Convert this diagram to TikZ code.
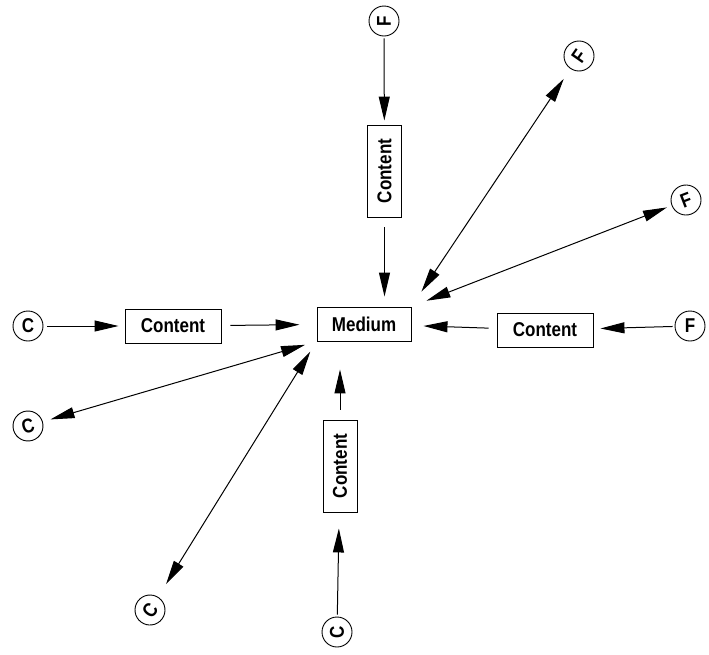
\documentclass[tikz,border=0pt]{standalone}
\usepackage{fontspec}
\setmainfont{Liberation Sans}
\newfontfamily\lbl[FakeStretch=0.85]{Liberation Sans}
\usetikzlibrary{arrows.meta}
\tikzset{
 box/.style={draw, line width=0.9pt, minimum height=34pt, inner sep=0pt, font=\lbl\bfseries\fontsize{20}{20}\selectfont},
 circ/.style={draw, circle, minimum size=30pt, inner sep=0pt, line width=0.9pt, font=\lbl\bfseries\fontsize{20}{20}\selectfont},
 arr/.style={line width=1pt, -{Triangle[length=24pt,width=11pt]}},
 darr/.style={line width=1pt, {Triangle[length=24pt,width=11pt]}-{Triangle[length=24pt,width=11pt]}},
}
\begin{document}
\begin{tikzpicture}[x=1pt,y=-1pt]
\useasboundingbox (0,0) rectangle (709,654);
\node[box, minimum width=94pt] (med) at (364,324) {Medium};
\node[box, minimum width=92pt, rotate=90] (ct) at (384.5,171) {Content};
\node[box, minimum width=96pt] (cl) at (173,326) {Content};
\node[box, minimum width=96pt] (cr) at (545,330) {Content};
\node[box, minimum width=92pt, rotate=90] (cb) at (340,466) {Content};
\node[circ, rotate=90] (f1) at (384,21) {F};
\node[circ, rotate=55] (f2) at (579,56) {F};
\node[circ, rotate=21] (f3) at (686,200) {F};
\node[circ] (f4) at (690,326) {F};
\node[circ] (c1) at (28,326) {C};
\node[circ, rotate=17] (c2) at (28,426) {C};
\node[circ, rotate=53] (c3) at (150,610) {C};
\node[circ, rotate=90] (c4) at (337,632) {C};
\draw[arr, shorten >=4pt, shorten <=2pt] (f1) -- (ct);
\draw[arr, shorten <=10pt, shorten >=10pt] (ct.west) -- (ct.west |- med.north);
\draw[arr, shorten >=6pt, shorten <=4pt] (c1) -- (cl);
\draw[arr, shorten <=9pt, shorten >=17pt] (cl) -- (med);
\draw[arr, shorten <=8pt, shorten >=12pt] (cr) -- (med);
\draw[arr, shorten <=2pt, shorten >=7pt] (f4) -- (cr);
\draw[darr, shorten <=12pt, shorten >=18pt] (f2) -- (med.north east);
\draw[darr, shorten <=5pt, shorten >=16pt] (f3) -- (med.north east);
\draw[darr, shorten <=8pt, shorten >=12pt] (c2) -- (med.south west);
\draw[darr, shorten <=15pt, shorten >=12pt] (c3) -- (med.south west);
\draw[arr, shorten <=2pt, shorten >=16pt] (c4) -- (cb);
\draw[arr, shorten <=10pt, shorten >=28pt] (cb.east) -- (cb.east |- med.south);
\end{tikzpicture}
\end{document}
